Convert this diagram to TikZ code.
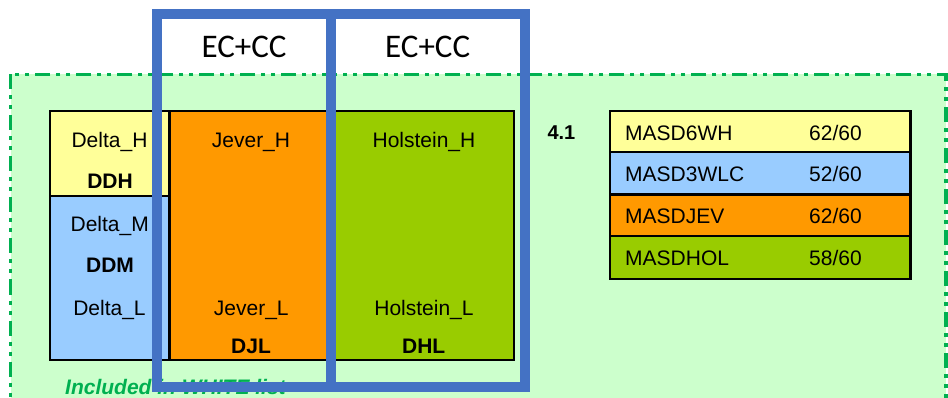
\documentclass[tikz,border=0pt]{standalone}
\usepackage{fontspec}
\setmainfont{Liberation Sans}
\newfontfamily\calibri{Carlito}

\definecolor{cellyellow}{HTML}{FFFF99}
\definecolor{cellblue}{HTML}{99CCFF}
\definecolor{cellorange}{HTML}{FF9900}
\definecolor{cellgreen}{HTML}{99CC00}
\definecolor{zonefill}{HTML}{CCFFCC}
\definecolor{zoneline}{HTML}{00B050}
\definecolor{ecblue}{HTML}{4472C4}

\tikzset{
  cell/.style={draw=black, line width=2.4pt, inner sep=0pt, outer sep=0pt},
  lbl/.style={inner sep=0pt, anchor=base, font=\fontsize{21}{24}\selectfont},
  blbl/.style={inner sep=0pt, anchor=base, font=\fontsize{21}{24}\selectfont\bfseries},
  rowlbl/.style={inner sep=0pt, anchor=base west, font=\fontsize{21}{24}\selectfont},
  ecframe/.style={draw=ecblue, line width=10pt, inner sep=0pt, outer sep=0pt},
  eclbl/.style={inner sep=0pt, anchor=base, font=\calibri\fontsize{33}{36}\selectfont},
}

\begin{document}
\begin{tikzpicture}[x=1pt, y=-1pt]
\useasboundingbox (0,0) rectangle (948,398);
\clip (0,0) rectangle (948,398);

% whitelist zone
\draw[fill=zonefill, draw=zoneline, line width=3.3pt,
      dash pattern=on 15pt off 6pt on 4pt off 6pt on 4pt off 6pt]
  (10.7,74.5) rectangle (946,430);

% left table
\node[cell, fill=cellyellow, minimum width=119.5pt, minimum height=85pt]  (ddh) at (109.75,153.5) {};
\node[cell, fill=cellblue,   minimum width=119.5pt, minimum height=164pt] (ddm) at (109.75,278) {};
\node[cell, fill=cellorange, minimum width=161.5pt, minimum height=249pt] (djl) at (250.25,235.5) {};
\node[cell, fill=cellgreen,  minimum width=183pt,   minimum height=249pt] (dhl) at (422.5,235.5) {};

\node[lbl]  (deltah) at (109.5,147.3) {Delta\_H};
\node[blbl] (ddhlbl) at (110,189)     {DDH};
\node[lbl]  (deltam) at (109.7,231.7) {Delta\_M};
\node[blbl] (ddmlbl) at (110,272.3)   {DDM};
\node[lbl]  (deltal) at (109.5,315)   {Delta\_L};

\node[lbl]  (jeverh) at (251,147.3)   {Jever\_H};
\node[lbl]  (jeverl) at (251.3,315)   {Jever\_L};
\node[blbl] (djllbl) at (251,353.3)   {DJL};

\node[lbl]  (holh)   at (424,147.3)   {Holstein\_H};
\node[lbl]  (holl)   at (424,315)     {Holstein\_L};
\node[blbl] (dhllbl) at (423.7,353.3) {DHL};

% version tag
\node[inner sep=0pt, anchor=base west, font=\fontsize{20}{24}\selectfont\bfseries] (ver) at (547.3,140) {4.1};

% right table
\node[cell, fill=cellyellow, minimum width=300.8pt, minimum height=40.7pt] (r1) at (760.1,131.65) {};
\node[cell, fill=cellblue,   minimum width=300.8pt, minimum height=42.7pt] (r2) at (760.1,173.35) {};
\node[cell, fill=cellorange, minimum width=300.8pt, minimum height=41.6pt] (r3) at (760.1,215.5) {};
\node[cell, fill=cellgreen,  minimum width=300.8pt, minimum height=42.4pt] (r4) at (760.1,257.5) {};

\node[rowlbl] (n1) at (625,140.7) {MASD6WH};
\node[rowlbl] (v1) at (809,140.7) {62/60};
\node[rowlbl] (n2) at (625,181.7) {MASD3WLC};
\node[rowlbl] (v2) at (809,181.7) {52/60};
\node[rowlbl] (n3) at (625,223.3) {MASDJEV};
\node[rowlbl] (v3) at (809,223.3) {62/60};
\node[rowlbl] (n4) at (625,265.7) {MASDHOL};
\node[rowlbl] (v4) at (809,265.7) {58/60};

% zone caption
\node[inner sep=0pt, anchor=base west, text=zoneline,
      font=\fontsize{21}{24}\selectfont\bfseries\itshape] (wl) at (65,394) {Included in WHITE list};

% EC+CC frames
\node[ecframe, minimum width=174.5pt, minimum height=372.2pt] (ec1) at (243.75,200.6) {};
\node[ecframe, minimum width=194pt,   minimum height=372.2pt] (ec2) at (428,200.6) {};
\node[eclbl] (ec1lbl) at (244,57.3)   {EC+CC};
\node[eclbl] (ec2lbl) at (427.7,57.3) {EC+CC};
\end{tikzpicture}
\end{document}
